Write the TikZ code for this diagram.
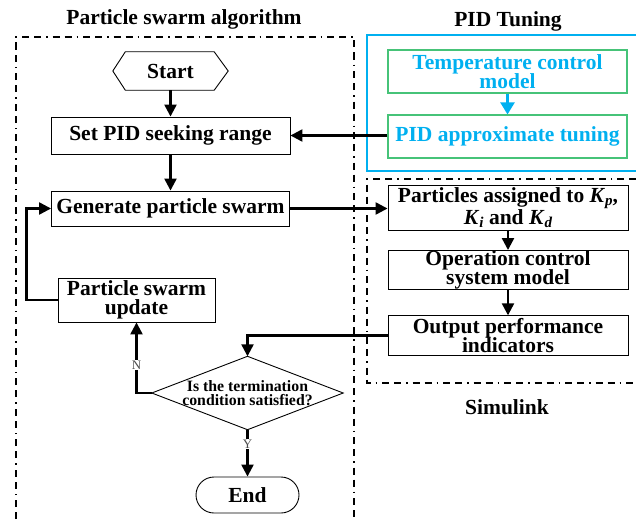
\documentclass[tikz,border=0pt]{standalone}
\usepackage{fontspec}
\setmainfont{Liberation Serif}
\usetikzlibrary{arrows.meta,calc}
\definecolor{cblue}{RGB}{0,176,240}
\definecolor{cgreen}{RGB}{70,195,120}
\newcommand{\Kx}[1]{\textit{K}\raisebox{-0.3ex}{\fontsize{15}{15}\selectfont\itshape #1}}
\begin{document}
\begin{tikzpicture}[x=1pt,y=-1pt,
  box/.style={draw, line width=0.9pt, inner sep=0pt, align=center, font=\bfseries\fontsize{21.5}{19.5}\selectfont},
  gbox/.style={box, draw=cgreen, text=cblue, line width=1.1pt},
  ghost/.style={inner sep=0pt, align=center},
  arr/.style={line width=2.3pt, -{Triangle[length=12pt,width=12pt]}},
  barr/.style={line width=2.3pt, draw=cblue, -{Triangle[length=12pt,width=14pt]}, cblue},
  frame/.style={line width=2pt, dash pattern=on 7pt off 5pt on 7pt off 5pt on 1.5pt off 5pt},
  ttl/.style={inner sep=0pt, font=\bfseries\fontsize{21.5}{19}\selectfont},
  lbl/.style={fill=white, inner sep=1pt, text=black!70, font=\fontsize{13}{13}\selectfont}
]
\useasboundingbox (0,0) rectangle (636,519);

% titles
\node[ttl] (t1) at (184,19) {Particle swarm algorithm};
\node[ttl] (t2) at (508,21) {PID Tuning};
\node[ttl] (t3) at (507,407) {Simulink};

% frames
\draw[frame] (16,519) -- (16,37) -- (354,37) -- (354,519);
\draw[line width=2.3pt, cblue] (636,35) -- (367,35) -- (367,171) -- (636,171);
\draw[frame] (636,179) -- (367,179) -- (367,383) -- (636,383);

% left flow
\node[ghost, minimum width=115, minimum height=38, font=\bfseries\fontsize{21.5}{19}\selectfont] (start) at (170.5,71) {Start};
\draw[line width=0.9pt] (start.west) -- ($(start.north west)+(12.5,0)$) -- ($(start.north east)+(-14,0)$) -- (start.east) -- ($(start.south east)+(-14,0)$) -- ($(start.south west)+(12.5,0)$) -- cycle;

\node[box, minimum width=239, minimum height=37] (setpid) at (170.5,135.5) {Set PID seeking range};
\node[box, minimum width=238, minimum height=35] (gen) at (170.5,208.5) {Generate particle swarm};
\node[box, minimum width=157, minimum height=44] (update) at (136.5,300) {Particle swarm\\update};

\node[ghost, minimum width=191, minimum height=73, font=\bfseries\fontsize{15.8}{14.5}\selectfont] (dia) at (247.5,393) {Is the termination\\condition satisfied?};
\draw[line width=0.9pt] (dia.north) -- (dia.east) -- (dia.south) -- (dia.west) -- cycle;

\node[box, rounded corners=18pt, minimum width=103, minimum height=36] (end) at (247.5,495) {End};

% right
\node[gbox, minimum width=239, minimum height=43] (temp) at (507.5,71.5) {Temperature control\\model};
\node[gbox, minimum width=239, minimum height=43] (pidapp) at (507.5,136.5) {PID approximate tuning};

\node[box, minimum width=240, minimum height=45] (part) at (508,207.5) {Particles assigned to \Kx{p},\\\Kx{i} and \Kx{d}};
\node[box, minimum width=240, minimum height=34] (oper) at (508,270) {Operation control\\system model};
\node[box, minimum width=240, minimum height=39.5] (outp) at (508,335.5) {Output performance\\indicators};

% connectors
\draw[arr] (start.south) -- (setpid.north);
\draw[arr] (setpid.south) -- (gen.north);
\draw[arr] (pidapp.west |- setpid.east) -- (setpid.east);
\draw[arr] (gen.east) -- (part.west |- gen.east);
\draw[arr] (part.south) -- (oper.north);
\draw[arr] (oper.south) -- (outp.north);
\draw[arr] (outp.west) -- (outp.west -| dia.north) -- (dia.north);
\draw[arr] (dia.west) -| (update.south) node[pos=0.7, lbl] {N};
\draw[arr] (update.west) -- ++(-31,0) |- (gen.west);
\draw[arr] (dia.south) -- (end.north) node[pos=0.3, lbl] {Y};
\draw[barr] (temp.south) -- (pidapp.north);
\end{tikzpicture}
\end{document}
